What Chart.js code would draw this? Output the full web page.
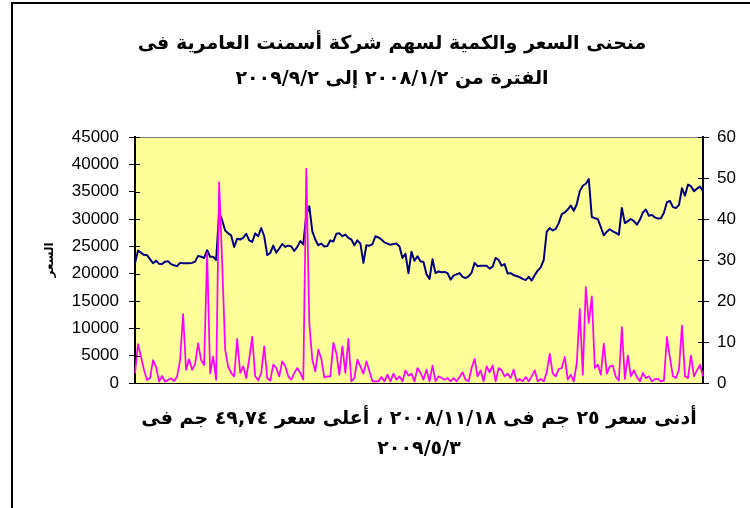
<!DOCTYPE html>
<html>
<head>
<meta charset="utf-8">
<script src="https://cdn.jsdelivr.net/npm/chart.js@4.4.0/dist/chart.umd.min.js"></script>
<style>
  html, body { margin:0; padding:0; background:#fff; overflow:hidden; width:750px; height:508px; }
  #frame { position:absolute; left:11px; top:2px; width:800px; height:600px; border-top:2px solid #000; border-left:2px solid #000; }
  canvas { position:absolute; left:0; top:0; }
</style>
</head>
<body>
<div id="frame"></div>
<canvas id="chart" width="770" height="508"></canvas>
<script>
// closing price (EGP) - right axis
const price = [
  29.2, 32.3, 31.8, 31.2, 31.2, 30.2, 29.2, 29.8, 29.1, 29.0,
  29.6, 29.7, 29.0, 28.7, 28.5, 29.3, 29.2, 29.2, 29.2, 29.3,
  29.6, 31.0, 30.8, 30.5, 32.4, 30.8, 30.8, 30.0, 41.6, 39.7,
  37.2, 36.5, 36.0, 33.2, 35.2, 35.0, 35.4, 36.4, 34.8, 34.4,
  36.5, 35.8, 37.8, 35.8, 31.2, 31.7, 33.5, 31.8, 32.8, 33.9,
  33.2, 33.5, 33.3, 32.2, 33.2, 34.6, 33.8, 41.0, 43.1, 37.0,
  35.0, 33.6, 34.0, 33.3, 33.4, 34.8, 34.5, 36.4, 36.5, 35.8,
  36.2, 35.4, 35.0, 33.6, 34.8, 34.0, 29.3, 33.6, 33.5, 33.8,
  35.8, 35.5, 35.0, 34.3, 34.0, 33.7, 33.9, 34.0, 33.3, 30.5,
  31.5, 26.8, 32.0, 29.8, 30.9, 29.7, 29.5, 26.5, 25.4, 30.2,
  26.8, 27.2, 27.0, 27.1, 26.8, 25.2, 26.2, 26.5, 26.8, 25.9,
  25.6, 26.0, 26.9, 29.3, 28.5, 28.6, 28.6, 28.6, 27.9, 28.4,
  30.5, 30.0, 28.6, 29.0, 26.7, 26.8, 26.3, 26.1, 25.8, 25.4,
  25.1, 25.9, 25.0, 26.3, 27.4, 28.2, 30.0, 36.9, 37.8, 37.2,
  37.6, 39.0, 41.2, 41.6, 42.3, 43.3, 42.0, 43.6, 46.8, 48.1,
  48.6, 49.74, 40.5, 40.2, 40.0, 38.0, 36.0, 36.9, 37.5, 37.0,
  36.6, 36.2, 42.7, 39.0, 39.5, 40.0, 39.5, 38.6, 39.8, 41.6,
  42.3, 40.8, 41.0, 40.4, 40.1, 40.2, 41.5, 44.1, 44.4, 42.9,
  42.7, 43.4, 47.5, 45.7, 48.4, 48.0, 46.8, 47.4, 47.9, 46.8
];

// traded quantity - left axis
const qty = [
  1770, 7130, 4800, 2400, 550, 850, 4200, 3000, 240, 1280,
  240, 550, 850, 360, 1160, 4200, 12620, 2380, 4330, 2400,
  3470, 7260, 4200, 3290, 23800, 1770, 4810, 550, 36700, 22000,
  6100, 3000, 1830, 1220, 8050, 1830, 3050, 915, 4390, 8420,
  1220, 490, 1830, 6710, 915, 430, 3350, 2740, 1220, 3960,
  3050, 1220, 610, 1830, 2740, 1830, 610, 39150, 10900, 4270,
  2130, 6100, 4400, 1000, 1220, 1220, 7320, 5490, 1500, 6710,
  1830, 8050, 300, 915, 4270, 3050, 1710, 3960, 2130, 300,
  300, 300, 1100, 300, 1520, 300, 1710, 610, 1220, 300,
  2320, 1340, 1710, 300, 2740, 1830, 610, 2440, 300, 3170,
  300, 1220, 915, 610, 915, 300, 915, 300, 1100, 1950,
  610, 300, 2740, 4390, 1220, 2320, 300, 3050, 1950, 3230,
  300, 2740, 2320, 1220, 1710, 915, 2440, 300, 730, 300,
  1100, 300, 1220, 2320, 300, 730, 300, 1950, 5370, 1710,
  1220, 2560, 2740, 4760, 610, 1520, 300, 3660, 13540, 1520,
  17560, 10980, 15850, 2740, 3350, 1520, 7200, 1710, 3050, 3170,
  1100, 490, 10240, 730, 5000, 1220, 2320, 1100, 300, 1830,
  915, 1220, 300, 730, 730, 300, 490, 8420, 4570, 1220,
  915, 2440, 10490, 1220, 915, 5000, 1220, 2320, 3350, 1220
];

const days = price.map((_, i) => i + 1);

const titleLines = ['منحنى السعر والكمية لسهم شركة أسمنت العامرية فى', 'الفترة من ٢٠٠٨/١/٢ إلى ٢٠٠٩/٩/٢'];
const noteLines = ['أدنى سعر ٢٥ جم فى ٢٠٠٨/١١/١٨ ، أعلى سعر ٤٩,٧٤ جم فى', '٢٠٠٩/٥/٣'];
const yTitle = 'السعر';

const arabicFont = 'DejaVu Sans';
const tickFont = { family: 'Liberation Sans', size: 17 };

// yellow plot area with grey border
const plotArea = {
  id: 'plotArea',
  beforeDraw(chart) {
    const { ctx, chartArea: a } = chart;
    ctx.save();
    ctx.fillStyle = '#FFFF99';
    ctx.fillRect(a.left, a.top, a.width, a.height);
    ctx.strokeStyle = '#808080';
    ctx.lineWidth = 1;
    ctx.strokeRect(a.left + 0.5, a.top + 0.5, a.width, a.height);
    ctx.restore();
  }
};

// excel style ticks cross the axis: add the inner half
const innerTicks = {
  id: 'innerTicks',
  afterDraw(chart) {
    const ctx = chart.ctx;
    ctx.save();
    ctx.strokeStyle = '#000';
    ctx.lineWidth = 1;
    ['y', 'y1'].forEach(id => {
      const s = chart.scales[id];
      const x = id === 'y' ? s.right : s.left;
      const dir = id === 'y' ? 1 : -1;
      s.ticks.forEach(t => {
        const py = Math.round(s.getPixelForValue(t.value)) + 0.5;
        ctx.beginPath();
        ctx.moveTo(x, py);
        ctx.lineTo(x + dir * 5, py);
        ctx.stroke();
      });
    });
    ctx.restore();
  }
};

new Chart(document.getElementById('chart'), {
  type: 'line',
  data: {
    labels: days,
    datasets: [
      { label: 'الكمية', data: qty, yAxisID: 'y', borderColor: '#FF00FF', borderWidth: 1.75, order: 0 },
      { label: 'السعر', data: price, yAxisID: 'y1', borderColor: '#000080', borderWidth: 2, order: 1 }
    ]
  },
  options: {
    responsive: false,
    animation: false,
    devicePixelRatio: 1,
    layout: { padding: { left: 14, top: 4, right: 0, bottom: 0 } },
    elements: {
      point: { radius: 0 },
      line: { tension: 0, borderJoinStyle: 'round', fill: false }
    },
    plugins: {
      legend: { display: false },
      tooltip: { enabled: false },
      title: {
        display: true,
        text: titleLines,
        color: '#000',
        font: { family: arabicFont, size: 19, weight: 'bold', lineHeight: 35 / 19 },
        padding: { top: 23, bottom: 40 }
      }
    },
    scales: {
      x: {
        ticks: { display: false },
        grid: { display: false },
        border: { display: true, color: '#000', width: 1 },
        title: {
          display: true,
          text: noteLines,
          color: '#000',
          font: { family: arabicFont, size: 19, weight: 'bold', lineHeight: 30 / 19 },
          padding: { top: 0, bottom: 44 }
        },
        afterFit: s => { s.height = 125; }
      },
      y: {
        position: 'left',
        min: 0, max: 45000,
        ticks: { stepSize: 5000, color: '#000', font: tickFont, padding: 10, callback: v => String(v) },
        grid: { drawOnChartArea: false, tickLength: 6, color: '#000' },
        border: { color: '#000', width: 2 },
        title: {
          display: true,
          text: yTitle,
          color: '#000',
          font: { family: arabicFont, size: 12, weight: 'bold' },
          padding: { top: 29, bottom: 0 }
        },
        afterFit: s => { s.width = 121; }
      },
      y1: {
        position: 'right',
        min: 0, max: 60,
        ticks: { stepSize: 10, color: '#000', font: tickFont, padding: 8, callback: v => String(v) },
        grid: { drawOnChartArea: false, tickLength: 6, color: '#000' },
        border: { color: '#000', width: 2 },
        afterFit: s => { s.width = 67; }
      }
    }
  },
  plugins: [plotArea, innerTicks]
});
</script>
</body>
</html>
